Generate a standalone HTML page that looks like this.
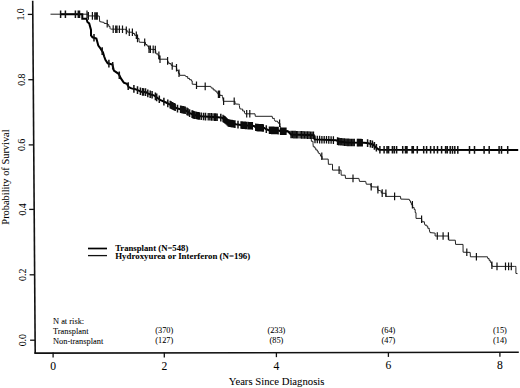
<!DOCTYPE html>
<html><head><meta charset="utf-8"><style>
html,body{margin:0;padding:0;background:#fff;}
svg{display:block;}
text{font-family:"Liberation Serif",serif;fill:#000;stroke:#000;stroke-width:0.05px;}
</style></head><body>
<svg width="520" height="388" viewBox="0 0 520 388">
<rect width="520" height="388" fill="#fff"/>
<line x1="32.7" y1="0.8" x2="35.2" y2="353.6" stroke="#111" stroke-width="1.6"/>
<line x1="34.4" y1="353.1" x2="518.8" y2="352.2" stroke="#111" stroke-width="1.6"/>
<line x1="27.8" y1="14.4" x2="32.8" y2="14.4" stroke="#111" stroke-width="1.3"/>
<line x1="28.3" y1="79.7" x2="33.3" y2="79.7" stroke="#111" stroke-width="1.3"/>
<line x1="28.7" y1="144.9" x2="33.7" y2="144.9" stroke="#111" stroke-width="1.3"/>
<line x1="29.2" y1="209.4" x2="34.2" y2="209.4" stroke="#111" stroke-width="1.3"/>
<line x1="29.6" y1="274.8" x2="34.6" y2="274.8" stroke="#111" stroke-width="1.3"/>
<line x1="30.1" y1="340.2" x2="35.1" y2="340.2" stroke="#111" stroke-width="1.3"/>
<line x1="53.1" y1="352.5" x2="53.1" y2="357.60" stroke="#111" stroke-width="1.3"/>
<line x1="164.3" y1="352.5" x2="164.3" y2="357.38" stroke="#111" stroke-width="1.3"/>
<line x1="276.4" y1="352.5" x2="276.4" y2="357.15" stroke="#111" stroke-width="1.3"/>
<line x1="388.4" y1="352.5" x2="388.4" y2="356.93" stroke="#111" stroke-width="1.3"/>
<line x1="499.9" y1="352.5" x2="499.9" y2="356.71" stroke="#111" stroke-width="1.3"/>
<polyline points="50.5,14.2 87.5,14.2 88.2,14.2 88.2,15.9 99.3,16.0 99.7,21.6 103.2,22.3 104.0,22.3 104.0,23.3 106.8,23.6 107.5,23.6 107.5,24.6 108.8,24.6 108.8,26.4 110.0,26.4 110.0,28.3 110.6,29.1 124.7,29.3 126.0,29.3 126.0,30.4 127.2,30.4 127.2,31.9 129.0,32.2 132.8,32.2 132.8,33.5 134.6,33.5 134.6,35.3 137.1,35.3 137.1,38.4 139.0,38.4 139.0,40.3 139.3,42.2 144.4,42.4 145.5,42.4 145.5,44.5 147.0,44.5 147.0,46.0 148.5,46.0 148.5,47.5 149.0,49.2 155.5,49.5 156.0,53.9 158.0,53.9 158.0,55.4 159.0,55.4 159.0,59.2 167.3,59.2 167.8,62.0 168.8,62.0 168.8,63.6 171.0,63.6 171.0,65.2 172.0,65.2 172.0,66.0 176.0,66.4 176.6,68.0 177.0,70.4 178.4,70.4 178.4,73.3 179.6,73.3 179.6,75.3 185.2,75.3 185.8,76.6 187.7,76.6 187.7,78.4 189.5,78.4 189.5,79.7 191.4,79.7 191.4,80.9 192.2,80.9 192.2,84.2 196.3,84.4 196.8,86.4 210.8,86.4 211.4,88.1 213.2,88.1 213.2,89.9 215.1,89.9 215.1,91.2 216.9,91.2 216.9,93.0 218.0,93.0 218.0,94.3 219.9,94.3 219.9,95.4 222.4,95.4 222.4,96.4 223.0,99.0 223.3,101.3 233.8,101.3 235.0,101.3 235.0,103.9 238.3,104.2 239.3,104.2 239.3,105.4 239.9,108.8 241.7,109.1 242.7,109.1 242.7,111.0 244.5,111.0 244.5,112.9 245.1,113.8 255.0,113.8 255.3,116.3 272.2,116.3 272.5,118.4 274.4,118.4 274.4,119.5 275.0,121.2 277.5,121.2 277.5,122.2 278.4,122.2 278.4,123.3 280.0,123.3 280.0,125.5 280.6,127.3 281.0,130.6 288.0,130.6 288.0,131.4 290.0,131.4 290.0,133.5 291.0,133.5 291.0,134.5 311.0,134.5 311.0,135.5 311.4,141.3 313.0,141.3 313.0,143.8 313.3,146.8 314.8,146.8 314.8,148.1 315.8,148.1 315.8,149.9 317.3,149.9 317.3,151.2 318.2,151.2 318.2,153.0 320.1,153.6 320.6,156.2 322.0,156.2 322.2,159.1 328.2,159.1 328.4,164.3 331.5,164.3 332.5,164.3 332.5,170.1 341.0,170.1 341.2,175.2 345.2,175.2 345.5,178.4 358.9,178.4 359.5,181.4 365.7,181.4 366.3,184.2 370.5,184.2 371.2,186.8 377.5,187.1 378.0,190.2 380.5,190.8 381.3,190.8 381.3,193.0 384.0,193.3 385.9,193.3 385.9,196.4 400.5,196.4 400.8,199.1 409.3,199.3 409.6,200.8 410.5,200.8 410.5,202.7 411.4,202.7 411.4,204.8 412.7,204.8 412.7,207.6 414.2,207.6 414.2,209.5 415.2,209.5 415.2,212.6 416.0,212.6 416.0,218.4 421.5,218.4 421.9,221.8 424.4,221.8 424.4,223.0 425.0,225.2 426.9,225.2 426.9,226.4 427.8,226.4 427.8,228.3 429.3,228.3 429.3,229.8 430.0,232.6 434.4,233.0 435.1,233.0 435.1,236.0 448.6,236.0 448.8,240.2 455.3,240.2 455.6,244.4 463.0,244.4 463.1,252.2 470.2,252.4 470.4,256.8 487.5,256.8 487.8,258.6 489.1,258.6 489.1,260.4 490.3,260.4 490.3,262.3 491.6,262.3 491.6,264.5 492.3,266.4 514.7,266.4 515.9,266.4 515.9,267.4 515.9,273.4 517.5,273.6" fill="none" stroke="#222" stroke-width="1.0"/>
<polyline points="60.0,14.2 82.3,14.2 82.3,18.8 86.5,18.8 87.4,22.0 89.2,23.4 91.0,30.0 91.0,35.4 92.5,37.3 96.4,38.5 98.3,45.5 100.6,48.6 103.0,52.4 104.1,56.3 105.4,59.9 107.7,63.3 112.4,64.5 113.9,70.7 118.6,73.8 120.9,78.4 123.8,82.6 126.9,83.8 128.8,87.2 131.5,88.4 135.4,89.2 141.5,91.8 146.2,92.2 147.7,93.4 150.8,94.5 153.8,95.3 156.9,97.5 160.6,100.2 166.0,102.5 170.6,104.8 177.5,108.6 185.2,110.2 189.8,113.2 194.0,115.0 200.8,116.3 208.8,116.8 218.0,117.2 222.0,117.8 225.8,120.5 228.2,123.0 236.0,124.3 241.0,125.0 247.0,125.5 254.0,126.0 256.0,127.5 264.2,128.0 266.0,129.0 269.0,130.3 279.0,130.6 280.5,131.2 288.0,131.4 290.0,133.5 291.0,134.5 313.8,135.3 314.6,139.4 336.0,140.2 338.0,141.4 346.8,142.4 364.0,142.7 367.0,143.0 373.0,144.5 376.0,147.5 379.2,149.8 518.2,149.9" fill="none" stroke="#000" stroke-width="2.0"/>
<path d="M87.0 10.4v7.6 M88.4 12.1v7.6 M92.4 12.1v7.6 M94.8 12.2v7.6 M96.1 12.2v7.6 M97.3 12.2v7.6 M107.2 19.8v7.6 M113.2 25.3v7.6 M115.7 25.4v7.6 M117.0 25.4v7.6 M119.4 25.4v7.6 M122.5 25.5v7.6 M126.3 26.6v7.6 M129.3 28.4v7.6 M132.4 28.4v7.6 M136.3 31.5v7.6 M137.5 34.6v7.6 M144.7 38.6v7.6 M149.0 45.4v7.6 M150.4 45.5v7.6 M153.2 45.6v7.6 M155.3 45.7v7.6 M158.9 51.6v7.6 M160.0 55.4v7.6 M167.6 57.1v7.6 M172.2 62.2v7.6 M176.5 63.9v7.6 M179.0 69.5v7.6 M196.5 81.4v7.6 M205.2 82.6v7.6 M218.4 90.5v7.6 M219.6 90.5v7.6 M223.6 97.5v7.6 M234.2 97.5v7.6 M246.7 110.0v7.6 M249.8 110.0v7.6 M279.6 119.5v7.6 M321.8 152.4v7.6 M339.1 166.3v7.6 M353.0 174.6v7.6 M371.2 183.0v7.6 M377.9 185.8v7.6 M382.2 189.3v7.6 M385.9 189.5v7.6 M394.6 192.6v7.6 M412.4 201.0v7.6 M421.6 215.5v7.6 M437.3 232.2v7.6 M443.1 232.2v7.6 M448.4 232.2v7.6 M466.8 248.5v7.6 M476.4 253.0v7.6 M491.9 261.5v7.6 M497.0 262.6v7.6 M505.5 262.6v7.6 M508.6 262.6v7.6 M511.3 262.6v7.6" stroke="#111" stroke-width="1.2" fill="none"/>
<path d="M94.0 34.0v7.6 M102.2 47.3v7.6 M108.9 59.8v7.6 M112.7 61.9v7.6 M119.3 71.4v7.6 M128.2 82.3v7.6 M133.9 85.1v7.6 M137.5 86.3v7.6 M140.4 87.5v7.6 M142.6 88.1v7.6 M143.5 88.2v7.6 M145.5 88.3v7.6 M147.8 89.6v7.6 M150.2 90.5v7.6 M152.1 91.0v7.6 M155.4 92.6v7.6 M156.7 93.6v7.6 M159.3 95.5v7.6 M163.9 97.8v7.6 M167.8 99.6v7.6 M170.2 100.8v7.6 M171.2 101.3v7.6 M172.2 101.9v7.6 M173.2 102.4v7.6 M174.2 103.0v7.6 M175.2 103.5v7.6 M177.5 104.8v7.6 M180.6 105.4v7.6 M181.6 105.7v7.6 M182.6 105.9v7.6 M183.7 106.1v7.6 M185.2 106.4v7.6 M187.0 107.6v7.6 M188.0 108.2v7.6 M189.6 109.3v7.6 M192.7 110.6v7.6 M194.5 111.3v7.6 M201.2 112.5v7.6 M203.5 112.7v7.6 M205.5 112.8v7.6 M220.8 113.8v7.6 M238.0 120.8v7.6 M266.3 125.3v7.6 M338.5 137.7v7.6 M357.5 138.8v7.6 M367.6 139.3v7.6 M370.4 140.0v7.6 M372.4 140.5v7.6 M374.4 142.1v7.6 M376.4 144.0v7.6 M379.9 146.0v7.6 M384.1 146.0v7.6 M387.0 146.0v7.6 M388.6 146.0v7.6 M392.4 146.0v7.6 M394.3 146.0v7.6 M396.6 146.0v7.6 M402.7 146.0v7.6 M405.5 146.0v7.6 M407.0 146.0v7.6 M412.1 146.0v7.6 M413.3 146.0v7.6 M417.3 146.0v7.6 M423.7 146.0v7.6 M426.6 146.0v7.6 M430.6 146.0v7.6 M434.1 146.0v7.6 M437.5 146.0v7.6 M441.6 146.0v7.6 M445.6 146.0v7.6 M447.3 146.0v7.6 M450.2 146.1v7.6 M452.5 146.1v7.6 M454.8 146.1v7.6 M457.8 146.1v7.6 M469.5 146.1v7.6 M474.5 146.1v7.6 M484.1 146.1v7.6 M489.2 146.1v7.6 M499.1 146.1v7.6 M501.5 146.1v7.6 M507.7 146.1v7.6 M60.6 10.4v7.6 M65.4 10.4v7.6 M75.4 10.4v7.6 M78.3 10.4v7.6 M79.5 10.4v7.6" stroke="#111" stroke-width="1.5" fill="none"/>
<path d="M192.0 110.3v7.6 M192.9 110.7v7.6 M193.8 111.1v7.6 M195.8 111.5v7.6 M196.7 111.7v7.6 M197.6 111.9v7.6 M198.5 112.1v7.6 M199.4 112.2v7.6 M208.2 113.0v7.6 M209.8 113.0v7.6 M211.4 113.1v7.6 M213.0 113.2v7.6 M214.6 113.3v7.6 M215.8 113.3v7.6 M217.2 113.4v7.6 M223.0 114.7v7.6 M224.0 115.4v7.6 M225.0 116.1v7.6 M226.0 116.9v7.6 M227.0 118.0v7.6 M228.0 119.0v7.6 M229.0 119.3v7.6 M230.0 119.5v7.6 M231.0 119.7v7.6 M232.0 119.8v7.6 M233.0 120.0v7.6 M234.0 120.2v7.6 M235.0 120.3v7.6 M241.0 121.2v7.6 M242.1 121.3v7.6 M243.2 121.4v7.6 M244.3 121.5v7.6 M245.4 121.6v7.6 M246.5 121.7v7.6 M248.0 121.8v7.6 M249.1 121.9v7.6 M250.2 121.9v7.6 M251.3 122.0v7.6 M252.4 122.1v7.6 M255.7 123.5v7.6 M256.8 123.7v7.6 M257.9 123.8v7.6 M259.0 123.9v7.6 M260.1 124.0v7.6 M261.2 124.0v7.6 M262.3 124.1v7.6 M263.4 124.2v7.6 M269.4 126.5v7.6 M270.5 126.5v7.6 M271.6 126.6v7.6 M272.7 126.6v7.6 M273.8 126.6v7.6 M274.9 126.7v7.6 M276.0 126.7v7.6 M277.1 126.7v7.6 M278.2 126.8v7.6 M280.5 127.4v7.6 M281.6 127.4v7.6 M282.7 127.5v7.6 M283.8 127.5v7.6 M284.9 127.5v7.6 M286.0 127.5v7.6 M291.0 130.7v7.6 M292.4 130.7v7.6 M293.8 130.8v7.6 M295.2 130.8v7.6 M296.6 130.9v7.6 M298.0 130.9v7.6 M300.0 131.0v7.6 M301.5 131.1v7.6 M303.0 131.1v7.6 M304.5 131.2v7.6 M306.0 131.2v7.6 M307.5 131.3v7.6 M309.0 131.3v7.6 M310.5 131.4v7.6 M312.0 131.4v7.6 M313.5 131.5v7.6 M315.0 135.6v7.6 M317.3 135.7v7.6 M319.6 135.8v7.6 M321.9 135.9v7.6 M324.2 136.0v7.6 M326.5 136.0v7.6 M328.8 136.1v7.6 M331.1 136.2v7.6 M333.4 136.3v7.6 M337.5 137.3v7.6 M338.9 137.7v7.6 M340.3 137.9v7.6 M341.7 138.0v7.6 M343.1 138.2v7.6 M344.5 138.3v7.6 M345.9 138.5v7.6 M347.3 138.6v7.6 M348.7 138.6v7.6 M350.1 138.7v7.6 M351.5 138.7v7.6 M352.9 138.7v7.6 M354.3 138.7v7.6 M358.4 138.8v7.6 M359.7 138.8v7.6 M361.0 138.8v7.6 M362.3 138.9v7.6" stroke="#0a0a0a" stroke-width="1.3" fill="none"/>
<line x1="88" y1="248.5" x2="107" y2="248.5" stroke="#000" stroke-width="1.7"/>
<line x1="88" y1="255.6" x2="107" y2="255.6" stroke="#111" stroke-width="1.3"/>
<text transform="translate(24.30,14.4) rotate(-90) scale(0.88,1)" text-anchor="middle" font-size="11.2">1.0</text>
<text transform="translate(24.73,79.7) rotate(-90) scale(0.88,1)" text-anchor="middle" font-size="11.2">0.8</text>
<text transform="translate(25.15,144.9) rotate(-90) scale(0.88,1)" text-anchor="middle" font-size="11.2">0.6</text>
<text transform="translate(25.57,209.4) rotate(-90) scale(0.88,1)" text-anchor="middle" font-size="11.2">0.4</text>
<text transform="translate(26.00,274.8) rotate(-90) scale(0.88,1)" text-anchor="middle" font-size="11.2">0.2</text>
<text transform="translate(26.42,340.2) rotate(-90) scale(0.88,1)" text-anchor="middle" font-size="11.2">0.0</text>
<text transform="translate(8.9,177) rotate(-90)" text-anchor="middle" font-size="10.4">Probability of Survival</text>
<text x="53.1" y="369.90" text-anchor="middle" font-size="11.6">0</text>
<text x="164.3" y="369.70" text-anchor="middle" font-size="11.6">2</text>
<text x="276.4" y="369.50" text-anchor="middle" font-size="11.6">4</text>
<text x="388.4" y="369.30" text-anchor="middle" font-size="11.6">6</text>
<text x="499.9" y="369.10" text-anchor="middle" font-size="11.6">8</text>
<text x="276.6" y="384.8" text-anchor="middle" font-size="10.7">Years Since Diagnosis</text>
<text x="115.2" y="250.5" font-size="8.7" font-weight="bold">Transplant (N=548)</text>
<text x="115.2" y="258.6" font-size="8.7" font-weight="bold" textLength="135" lengthAdjust="spacingAndGlyphs">Hydroxyurea or Interferon (N=196)</text>
<text x="53" y="323.6" font-size="8.4">N at risk:</text>
<text x="53" y="333.7" font-size="8.4">Transplant</text>
<text x="53" y="343.8" font-size="8.4">Non-transplant</text>
<text x="164.3" y="333.3" text-anchor="middle" font-size="8.3">(370)</text>
<text x="164.3" y="343.1" text-anchor="middle" font-size="8.3">(127)</text>
<text x="276.4" y="333.3" text-anchor="middle" font-size="8.3">(233)</text>
<text x="276.4" y="343.1" text-anchor="middle" font-size="8.3">(85)</text>
<text x="388.4" y="333.3" text-anchor="middle" font-size="8.3">(64)</text>
<text x="388.4" y="343.1" text-anchor="middle" font-size="8.3">(47)</text>
<text x="499.9" y="333.3" text-anchor="middle" font-size="8.3">(15)</text>
<text x="499.9" y="343.1" text-anchor="middle" font-size="8.3">(14)</text>
</svg>
</body></html>
